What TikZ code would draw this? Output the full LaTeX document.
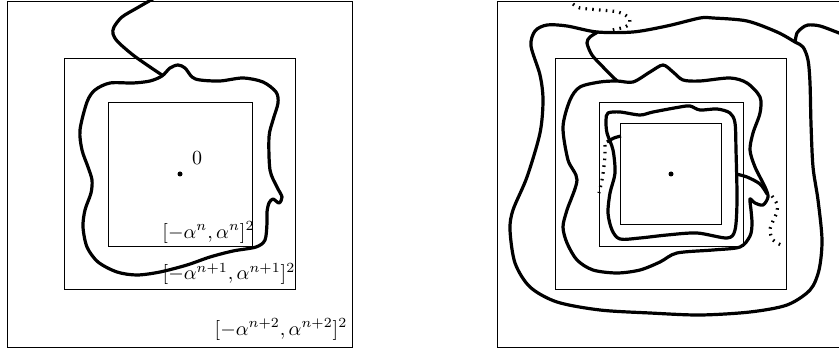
\documentclass[tikz,border=0pt]{standalone}
\usepackage{amsmath}
\usepackage{amssymb}
\usepackage{tikz}

\begin{document}
\begin{tikzpicture}[x=0.5pt,y=0.5pt,
  curve/.style={line width=1.6pt,line join=round},
  dotcurve/.style={line width=1.6pt,dash pattern=on 0.8pt off 2.6pt}]
\useasboundingbox (-180,-179) rectangle (659,174);
\clip (-180,-179) rectangle (659,174);

% Left picture
\draw (-172.5,-173) rectangle (172.5,173);
\draw (-115.5,-115.5) rectangle (115.5,115.5);
\draw (-72,-72) rectangle (72,72);
\fill (0,0) circle (2.5);
\node (zero) at (17,16) {$0$};
\node (boxn) at (28.5,-58.5) {$[-\alpha^{n},\alpha^{n}]^2$};
\node (boxnone) at (49,-100) {$[-\alpha^{n+1},\alpha^{n+1}]^2$};
\node (boxntwo) at (101,-155.5) {$[-\alpha^{n+2},\alpha^{n+2}]^2$};

\draw[curve] plot[smooth] coordinates {(-22,178) (-43,166) (-58,157) (-66,147)
  (-67,140) (-62,132) (-47,119) (-30,107) (-18,99)};
\draw[curve] plot[smooth cycle] coordinates {(-18,98) (-10,106) (-2,109) (5,106)
  (12,97) (20,94) (40,93) (63,96) (83,92) (96,82) (98,71) (93,54) (89,37)
  (90,4) (97,-13) (102,-23) (99,-29) (93,-25) (89,-29) (87,-38) (87,-49)
  (85,-66) (76,-73) (53,-77) (30,-83) (7,-91) (-20,-98) (-43,-101) (-63,-98)
  (-82,-88) (-93,-73) (-97,-53) (-95,-36) (-89,-19) (-88,-6) (-92,7) (-98,24)
  (-100,44) (-93,72) (-85,84) (-70,91) (-47,91) (-30,93)};

% Right picture
\begin{scope}[shift={(491,0)}]
\draw (-174,-173) rectangle (174,173);
\draw (-115.5,-115.5) rectangle (115.5,115.5);
\draw (-72,-72) rectangle (72,72);
\draw (-50.5,-50.5) rectangle (50.5,50.5);
\fill (0,0) circle (2.5);

% outer loop
\draw[curve] plot[smooth cycle] coordinates {(-140,128) (-136,143) (-124,149)
  (-104,148) (-74,142) (-38,142) (-4,148) (29,156) (42,156) (76,153) (106,142)
  (124,132) (132,127) (137,114) (139,91) (140,50) (142,7) (147,-26) (151,-66)
  (148,-96) (139,-116) (116,-131) (79,-138) (29,-141) (-21,-139)
  (-71,-136) (-114,-128) (-141,-113) (-156,-89) (-161,-56) (-158,-36)
  (-144,-3) (-131,41) (-128,74) (-131,99)};
\draw[curve] plot[smooth] coordinates {(124,132) (126,141) (131,146) (137,149)
  (149,148) (168,141) (178,137)};

% middle loop
\draw[curve] plot[smooth] coordinates {(-73,142) (-81,137) (-84,131) (-79,119)
  (-68,107) (-54,93)};
\draw[curve] plot[smooth cycle] coordinates {(-54,93) (-38,92) (-21,102)
  (-8,109) (2,102) (12,94) (29,93) (59,96) (76,91) (89,77) (89,61) (82,41)
  (79,24) (84,7) (94,-13) (97,-23) (92,-31) (84,-29) (79,-25) (80,-36)
  (81,-50) (79,-62) (69,-73) (42,-76) (6,-79) (-11,-88) (-31,-96) (-54,-99)
  (-78,-96) (-94,-86) (-104,-69) (-108,-53) (-104,-36) (-94,-6) (-103,14)
  (-108,47) (-101,74) (-91,87) (-71,92)};

% inner loop
\draw[curve] plot[smooth cycle] coordinates {(-63,61) (-51,62) (-31,59)
  (-18,62) (9,67) (19,68) (29,64) (46,65) (59,61) (64,51) (65,24) (66,-26)
  (64,-56) (56,-64) (26,-59) (-4,-61) (-31,-64) (-51,-65) (-59,-56) (-63,-39)
  (-61,-19) (-56,1) (-58,24) (-64,41) (-65,54)};
\draw[curve] plot[smooth] coordinates {(-64,32) (-57,36) (-50,38)};
\draw[curve] plot[smooth] coordinates {(65,0) (76,-3) (89,-10) (96,-20)};

% dotted pieces
\draw[dotcurve] plot[smooth] coordinates {(-98,170) (-91,166) (-71,164)
  (-53,162) (-43,157) (-41,151) (-46,147) (-59,144)};
\draw[dotcurve] plot[smooth] coordinates {(-66,29) (-66,20) (-67,8) (-69,-6)
  (-72,-19)};
\draw[dotcurve] plot[smooth] coordinates {(101,-22) (106,-30) (106,-38)
  (102,-47) (99,-56) (102,-66) (112,-72)};
\end{scope}
\end{tikzpicture}
\end{document}
